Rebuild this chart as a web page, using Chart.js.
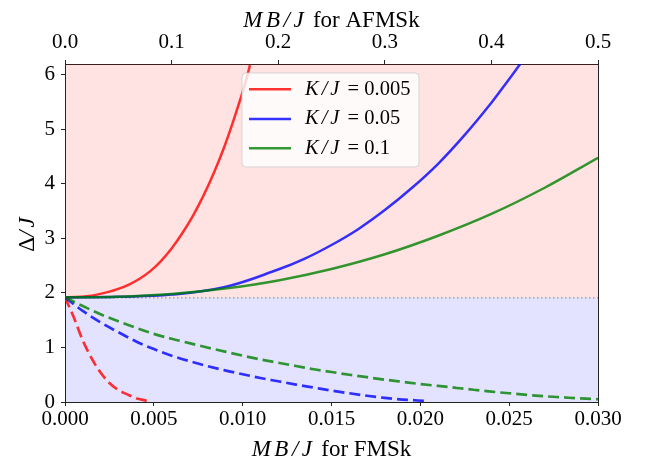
<!DOCTYPE html>
<html>
<head>
<meta charset="utf-8">
<script src="https://cdn.jsdelivr.net/npm/chart.js@4.4.1/dist/chart.umd.min.js"></script>
<style>
  html, body { margin: 0; padding: 0; background: #fff; }
</style>
</head>
<body>
<canvas id="myChart" width="648" height="463"></canvas>
<script>
// K/J values for the three curves
const kjLabels = ['0.005', '0.05', '0.1'];

// tick labels
const fmsTicks = [0, 0.005, 0.010, 0.015, 0.020, 0.025, 0.030];
const afmTicks = [0, 0.1, 0.2, 0.3, 0.4, 0.5];
const gapTicks = [0, 1, 2, 3, 4, 5, 6];

// gap boundary (dotted line) between the two shaded regions
const boundaryX = [0, 0.03];
const boundaryGap = [1.91, 1.91];

// AFMSk, solid lines (top axis, MB/J)
const afmMB_005 = [0, 0.01, 0.02, 0.03, 0.04, 0.05, 0.06, 0.07, 0.08, 0.09, 0.10, 0.11, 0.12, 0.13, 0.14, 0.15, 0.16, 0.17, 0.1735];
const afmGap_005 = [1.92, 1.925, 1.94, 1.97, 2.015, 2.075, 2.155, 2.26, 2.40, 2.585, 2.815, 3.095, 3.415, 3.79, 4.22, 4.71, 5.28, 5.91, 6.18];
const afmMB_05 = [0, 0.05, 0.10, 0.15, 0.20, 0.225, 0.25, 0.275, 0.30, 0.325, 0.35, 0.375, 0.40, 0.415, 0.427];
const afmGap_05 = [1.92, 1.93, 1.97, 2.11, 2.43, 2.63, 2.88, 3.17, 3.52, 3.92, 4.37, 4.90, 5.49, 5.88, 6.20];
const afmMB_1 = [0, 0.05, 0.10, 0.15, 0.20, 0.25, 0.30, 0.35, 0.40, 0.45, 0.50];
const afmGap_1 = [1.92, 1.93, 1.98, 2.08, 2.23, 2.44, 2.71, 3.05, 3.45, 3.93, 4.48];

// FMSk, dashed lines (bottom axis, MB/J)
const fmMB_005 = [0, 0.0005, 0.001, 0.0015, 0.002, 0.0025, 0.003, 0.0035, 0.004, 0.0045, 0.0048];
const fmGap_005 = [1.92, 1.55, 1.13, 0.80, 0.54, 0.35, 0.22, 0.14, 0.07, 0.03, 0.01];
const fmMB_05 = [0, 0.001, 0.002, 0.003, 0.004, 0.005, 0.006, 0.007, 0.008, 0.009, 0.010, 0.011,
                 0.012, 0.013, 0.014, 0.015, 0.016, 0.017, 0.018, 0.019, 0.0203];
const fmGap_05 = [1.92, 1.67, 1.46, 1.28, 1.11, 0.97, 0.85, 0.75, 0.66, 0.58, 0.51, 0.44,
                  0.38, 0.32, 0.265, 0.21, 0.16, 0.115, 0.075, 0.045, 0.02];
const fmMB_1 = [0, 0.001, 0.002, 0.003, 0.004, 0.005, 0.006, 0.007, 0.008, 0.009, 0.010, 0.011,
                0.012, 0.013, 0.014, 0.015, 0.016, 0.017, 0.018, 0.019, 0.020, 0.021, 0.022,
                0.023, 0.024, 0.025, 0.026, 0.027, 0.028, 0.029, 0.030];
const fmGap_1 = [1.92, 1.76, 1.61, 1.48, 1.36, 1.25, 1.16, 1.08, 1.00, 0.925, 0.85, 0.78,
                 0.72, 0.66, 0.60, 0.55, 0.50, 0.455, 0.41, 0.37, 0.33, 0.295, 0.26,
                 0.225, 0.19, 0.16, 0.13, 0.105, 0.085, 0.065, 0.05];

const pts = (xs, ys) => xs.map((x, i) => ({ x: x, y: ys[i] }));

const FONT = '"Liberation Serif", "DejaVu Serif", serif';
const RED = 'rgba(255,0,0,0.8)';
const BLUE = 'rgba(0,0,255,0.8)';
const GREEN = 'rgba(0,128,0,0.8)';
const FRAME = '#222';

// mixed italic / upright text (math in italic with a little extra spacing like TeX)
function partsWidth(ctx, parts, size) {
    let w = 0;
    parts.forEach(p => {
        ctx.font = (p.it ? 'italic ' : '') + size + 'px ' + FONT;
        if (p.it) {
            for (const ch of p.t) w += ctx.measureText(ch).width + p.gap;
        } else {
            w += ctx.measureText(p.t).width;
        }
    });
    return w;
}
function drawParts(ctx, parts, x, y, size, align) {
    const w = partsWidth(ctx, parts, size);
    let cx = align === 'center' ? x - w / 2 : x;
    ctx.textAlign = 'left';
    ctx.textBaseline = 'middle';
    ctx.fillStyle = '#000';
    parts.forEach(p => {
        ctx.font = (p.it ? 'italic ' : '') + size + 'px ' + FONT;
        if (p.it) {
            for (const ch of p.t) {
                ctx.fillText(ch, cx, y);
                cx += ctx.measureText(ch).width + p.gap;
            }
        } else {
            ctx.fillText(p.t, cx, y);
            cx += ctx.measureText(p.t).width;
        }
    });
}

const textPlugin = {
    id: 'texts',
    afterDraw(chart) {
        const ctx = chart.ctx;
        const a = chart.chartArea;
        const cx = (a.left + a.right) / 2;
        ctx.save();
        // axis titles
        drawParts(ctx, [{ t: 'MB/J', it: true, gap: 3.5 }, { t: ' for AFMSk' }], cx, 21, 23, 'center');
        drawParts(ctx, [{ t: 'MB/J', it: true, gap: 3.5 }, { t: ' for FMSk' }], cx, 450, 23, 'center');
        ctx.save();
        ctx.translate(28, (a.top + a.bottom) / 2);
        ctx.rotate(-Math.PI / 2);
        drawParts(ctx, [{ t: 'Δ' }, { t: '/J', it: true, gap: 3 }], 0, 0, 23, 'center');
        ctx.restore();

        // legend
        const lx = 242, ly = 73, lw = 177, lh = 94;
        ctx.beginPath();
        ctx.roundRect(lx, ly, lw, lh, 4);
        ctx.fillStyle = 'rgba(255,255,255,0.8)';
        ctx.fill();
        ctx.strokeStyle = 'rgba(204,204,204,0.8)';
        ctx.lineWidth = 1;
        ctx.stroke();
        const colors = [RED, BLUE, GREEN];
        const rows = [89.3, 119, 148.3];
        kjLabels.forEach((lab, i) => {
            ctx.beginPath();
            ctx.moveTo(249, rows[i]);
            ctx.lineTo(291, rows[i]);
            ctx.strokeStyle = colors[i];
            ctx.lineWidth = 2.5;
            ctx.stroke();
            drawParts(ctx, [{ t: 'K/J', it: true, gap: 3 }, { t: ' = ' + lab }], 305, rows[i], 20.5, 'left');
        });
        ctx.restore();
    }
};

const solid = (data, color, order) => ({
    data: data, xAxisID: 'x2', yAxisID: 'y', borderColor: color, borderWidth: 2.5,
    pointRadius: 0, fill: false, tension: 0.4, order: order
});
const dashed = (data, color, order) => ({
    data: data, xAxisID: 'x', yAxisID: 'y', borderColor: color, borderWidth: 2.7,
    borderDash: [11, 5], pointRadius: 0, fill: false, cubicInterpolationMode: 'monotone', order: order
});

const tickFont = { family: FONT, size: 21 };

const ctx = document.getElementById('myChart').getContext('2d');
new Chart(ctx, {
    type: 'line',
    data: {
        datasets: [
            solid(pts(afmMB_1, afmGap_1), GREEN, 0),
            solid(pts(afmMB_05, afmGap_05), BLUE, 1),
            solid(pts(afmMB_005, afmGap_005), RED, 2),
            dashed(pts(fmMB_1, fmGap_1), GREEN, 3),
            dashed(pts(fmMB_05, fmGap_05), BLUE, 4),
            dashed(pts(fmMB_005, fmGap_005), RED, 5),
            {
                data: pts(boundaryX, boundaryGap), xAxisID: 'x', yAxisID: 'y',
                borderColor: 'rgba(128,128,128,0.8)', borderWidth: 1.3, borderDash: [1.5, 2.5],
                pointRadius: 0, fill: 'start', backgroundColor: 'rgba(0,0,255,0.11)', order: 6
            },
            {
                data: pts(boundaryX, boundaryGap), xAxisID: 'x', yAxisID: 'y',
                borderWidth: 0, pointRadius: 0, fill: 'end', backgroundColor: 'rgba(255,0,0,0.11)', order: 7
            }
        ]
    },
    options: {
        responsive: false,
        devicePixelRatio: 1,
        animation: false,
        layout: { padding: 0 },
        plugins: { legend: { display: false }, tooltip: { enabled: false } },
        scales: {
            x: {
                type: 'linear', position: 'bottom', min: 0, max: 0.03,
                afterBuildTicks: s => { s.ticks = fmsTicks.map(v => ({ value: v })); },
                afterFit: s => { s.height = 61; },
                ticks: { callback: v => v.toFixed(3), font: tickFont, color: '#000', padding: 1, maxRotation: 0, autoSkip: false },
                grid: { drawOnChartArea: false, tickLength: 4, color: FRAME },
                border: { color: FRAME, width: 1 }
            },
            x2: {
                type: 'linear', position: 'top', min: 0, max: 0.5,
                afterBuildTicks: s => { s.ticks = afmTicks.map(v => ({ value: v })); },
                afterFit: s => { s.height = 64; },
                ticks: { callback: v => v.toFixed(1), font: tickFont, color: '#000', padding: 5, maxRotation: 0, autoSkip: false },
                grid: { drawOnChartArea: false, tickLength: 4, color: FRAME },
                border: { color: FRAME, width: 1 }
            },
            y: {
                type: 'linear', position: 'left', min: 0, max: 6.2,
                afterBuildTicks: s => { s.ticks = gapTicks.map(v => ({ value: v })); },
                afterFit: s => { s.width = 65; },
                ticks: { callback: v => String(v), font: tickFont, color: '#000', padding: 6 },
                grid: { drawOnChartArea: false, tickLength: 4, color: FRAME },
                border: { color: FRAME, width: 1 }
            },
            y2: {
                type: 'linear', position: 'right', min: 0, max: 6.2,
                afterFit: s => { s.width = 50; },
                ticks: { display: false },
                grid: { display: false },
                border: { color: FRAME, width: 1 }
            }
        }
    },
    plugins: [textPlugin]
});
</script>
</body>
</html>
